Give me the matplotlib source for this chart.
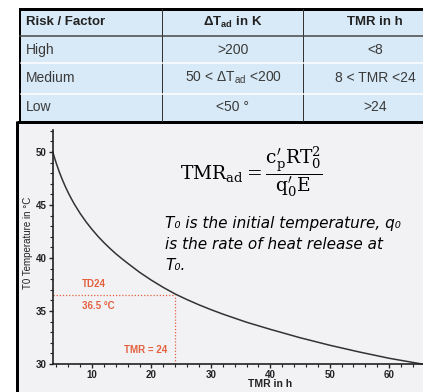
import matplotlib
matplotlib.use("Agg")
import matplotlib.pyplot as plt
from matplotlib import font_manager
from matplotlib.patches import Rectangle

# ---------------- data ----------------
table_header = ["Risk / Factor", r"$\mathbf{\Delta T_{ad}}$ in K", "TMR in h"]
risk_levels = ["High", "Medium", "Low"]
dT_ranges = [">200", r"50 < $\Delta\mathrm{T}_{\mathrm{ad}}$ <200", "<50 °"]
tmr_ranges = ["<8", "8 < TMR <24", ">24"]

tmr_h = [3.4, 3.6, 3.8, 4, 4.5, 5, 5.5, 6, 6.5, 7, 8, 9, 10, 11, 12, 13, 14, 15, 16, 18,
         20, 22, 24, 26, 28, 30, 32, 36, 40, 45, 50, 55, 60, 65.5]
t0_c = [50.0, 49.61, 49.25, 48.9, 48.1, 47.39, 46.74, 46.15, 45.61, 45.1, 44.2, 43.4, 42.69,
        42.04, 41.45, 40.91, 40.4, 39.94, 39.5, 38.65, 37.9, 37.22, 36.6, 36.07, 35.58,
        35.13, 34.71, 33.94, 33.27, 32.48, 31.77, 31.13, 30.54, 30.0]
x_ticks = [10, 20, 30, 40, 50, 60]
y_ticks = [30, 35, 40, 45, 50]
td24_tmr = 24
td24_temp = 36.5

# ---------------- fonts ----------------
names = {f.name for f in font_manager.fontManager.ttflist}
narrow = "Liberation Sans Narrow" if "Liberation Sans Narrow" in names else "Liberation Sans"
plt.rcParams["mathtext.fontset"] = "custom"
plt.rcParams["mathtext.rm"] = narrow
plt.rcParams["mathtext.it"] = narrow + ":italic"
plt.rcParams["mathtext.bf"] = narrow + ":bold"

W, H = 423, 392
fig = plt.figure(figsize=(W / 100, H / 100), dpi=100)
fig.patch.set_facecolor("white")

# pixel-coordinate background axes
bg = fig.add_axes([0, 0, 1, 1])
bg.set_xlim(0, W)
bg.set_ylim(H, 0)
bg.axis("off")
PX = 0.72  # points per pixel

# chart panel
bg.add_patch(Rectangle((17, 122), 430, 280, facecolor="#f2f2f4", edgecolor="none"))
bg.plot([17, 17], [121, H], color="black", lw=3 * PX, solid_capstyle="butt")
bg.plot([17, W], [122, 122], color="black", lw=3 * PX, solid_capstyle="butt")

# table
bg.add_patch(Rectangle((20, 9), 430, 112, facecolor="#d8eaf7", edgecolor="none"))
bg.plot([19, W], [9, 9], color="black", lw=3 * PX, solid_capstyle="butt")
bg.plot([20, 20], [8, 122], color="black", lw=2 * PX, solid_capstyle="butt")
for xc in (162, 303):
    bg.plot([xc, xc], [9, 121], color="#333333", lw=1 * PX)
bg.plot([20, W], [36, 36], color="#444444", lw=1.5 * PX)
for yr in (63, 94):
    bg.plot([21, W], [yr, yr], color="white", lw=1.5 * PX)

row_y = [22, 50, 78, 107]
col_x = [26, 233, 375]
for j in range(3):
    bg.text(col_x[j], row_y[0], table_header[j], family=narrow, weight="bold", fontsize=9.5,
            va="center", ha="left" if j == 0 else "center", color="#222222")
for i in range(3):
    y = row_y[i + 1]
    bg.text(col_x[0], y, risk_levels[i], family=narrow, fontsize=10, va="center", ha="left", color="#3a3a3a")
    bg.text(col_x[1], y, dT_ranges[i], family=narrow, fontsize=10, va="center", ha="center", color="#3a3a3a")
    bg.text(col_x[2], y, tmr_ranges[i], family=narrow, fontsize=10, va="center", ha="center", color="#3a3a3a")

# formula and description
bg.text(180, 172, r"$\mathrm{TMR_{ad}} = \dfrac{\mathrm{c}_{\mathrm{p}}^{\prime}\mathrm{RT}_{0}^{2}}{\mathrm{q}_{0}^{\prime}\mathrm{E}}$",
        fontsize=13.5, math_fontfamily="dejavuserif", va="center", ha="left", color="black")
desc = ["T\u2080 is the initial temperature, q\u2080", "is the rate of heat release at", "T\u2080."]
for k, line in enumerate(desc):
    bg.text(165, 223 + 21 * k, line, family="DejaVu Sans", style="italic", fontsize=11,
            va="center", ha="left", color="black")

# axis labels
bg.text(28, 243, "T0 Temperature in °C", rotation=90, family="Liberation Sans", fontsize=7,
        va="center", ha="center", color="#222222")
bg.text(270, 384, "TMR in h", family="Liberation Sans", weight="bold", fontsize=7.5,
        va="center", ha="center", color="#222222")

# ---------------- chart ----------------
left, right, top, bottom = 53, W, 130, 364
ax = fig.add_axes([left / W, (H - bottom) / H, (right - left) / W, (bottom - top) / H])
ax.patch.set_alpha(0)
ax.set_xlim(3.43, 65.7)
ax.set_ylim(30, 52.07)
for s in ("top", "right"):
    ax.spines[s].set_visible(False)
for s in ("left", "bottom"):
    ax.spines[s].set_color("#222222")
    ax.spines[s].set_linewidth(1.2)

ax.plot(tmr_h, t0_c, color="#333333", lw=1.1, clip_on=False)

red = "#e4603f"
ax.plot([3.43, td24_tmr], [td24_temp, td24_temp], color=red, lw=0.9, ls=(0, (1, 1.5)))
ax.plot([td24_tmr, td24_tmr], [30, td24_temp], color=red, lw=0.9, ls=(0, (1, 1.5)))
bg.text(82, 284, "TD24", color=red, weight="bold", fontsize=7, family="Liberation Sans", va="center")
bg.text(82, 306, "36.5 °C", color=red, weight="bold", fontsize=7, family="Liberation Sans", va="center")
bg.text(167, 350, "TMR = 24", color=red, weight="bold", fontsize=7, family="Liberation Sans",
        va="center", ha="right")

ax.set_xticks(x_ticks)
ax.set_yticks(y_ticks)
ax.set_xticks(range(4, 66, 2), minor=True)
ax.set_yticks(range(30, 53), minor=True)
ax.tick_params(which="major", direction="out", length=3, width=1, color="#222222",
               labelsize=7, labelcolor="#222222", pad=1.5)
ax.tick_params(which="minor", direction="out", length=2, width=0.8, color="#222222")
for lab in ax.get_xticklabels() + ax.get_yticklabels():
    lab.set_fontweight("bold")
    lab.set_family("Liberation Sans")

fig.savefig("out.png", dpi=100, facecolor="white")
